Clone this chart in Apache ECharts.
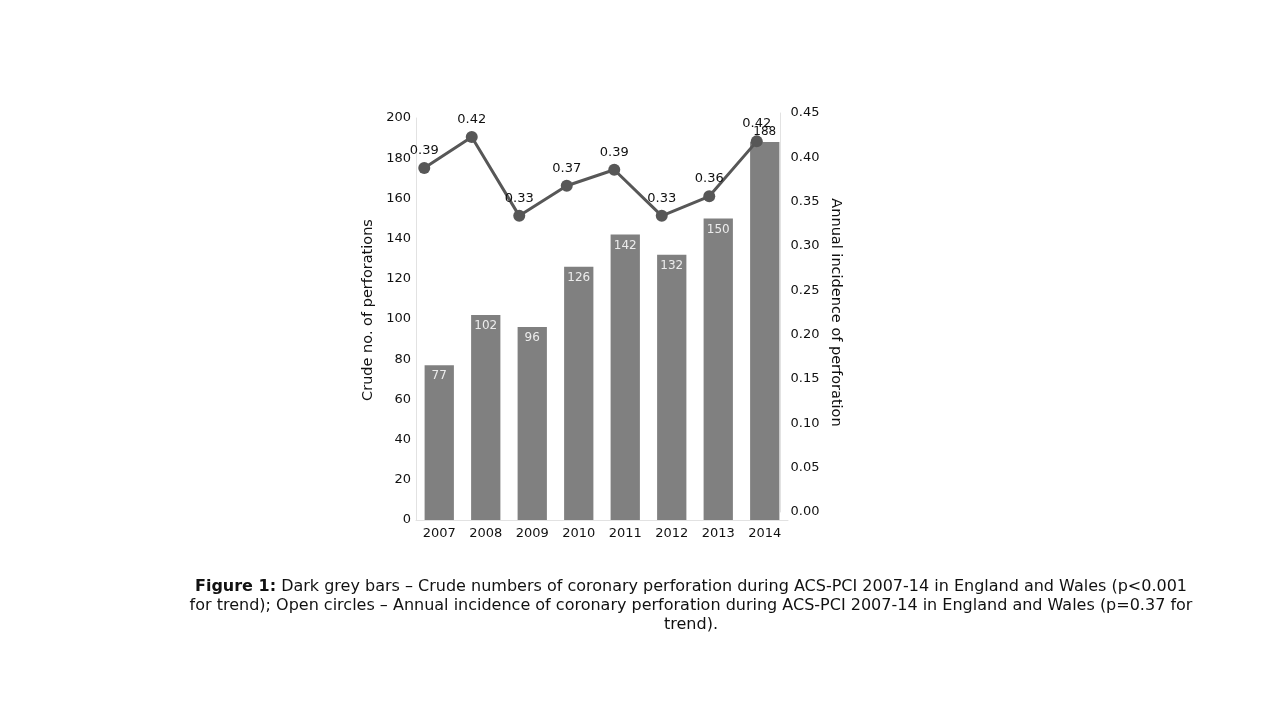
<!DOCTYPE html>
<html>
<head>
<meta charset="utf-8">
<script src="https://cdn.jsdelivr.net/npm/echarts@6/dist/echarts.min.js"></script>
<style>
html,body{margin:0;padding:0;background:#fff;}
#chart{width:1280px;height:720px;}
</style>
</head>
<body>
<div id="chart"></div>
<script>
const years = ['2007', '2008', '2009', '2010', '2011', '2012', '2013', '2014'];
const crudeCounts = [77, 102, 96, 126, 142, 132, 150, 188];
const annualIncidence = [0.388, 0.423, 0.334, 0.368, 0.386, 0.334, 0.356, 0.418];
const leftTicks = { min: 0, max: 200, interval: 20 };
const rightTicks = { min: 0, max: 0.45, interval: 0.05 };
const captionBold = 'Figure 1:';
const captionLines = [
  ' Dark grey bars \u2013 Crude numbers of coronary perforation during ACS-PCI 2007-14 in England and Wales (p<0.001',
  'for trend); Open circles \u2013 Annual incidence of coronary perforation during ACS-PCI 2007-14 in England and Wales (p=0.37 for',
  'trend).'
];

const FONT = 'DejaVu Sans';
const spine = { show: true, lineStyle: { color: '#e2e2e2', width: 1 } };

const barData = crudeCounts.map((v, i) => {
  if (i === crudeCounts.length - 1) {
    return { value: v, label: { position: 'top', color: '#111', distance: 4 } };
  }
  return v;
});

const chart = echarts.init(document.getElementById('chart'), null, { renderer: 'canvas' });
chart.setOption({
  backgroundColor: '#ffffff',
  animation: false,
  textStyle: { fontFamily: FONT },
  title: {
    text: '{b|' + captionBold + '}' + captionLines.join('\n'),
    left: 686,
    top: 572,
    textAlign: 'center',
    textStyle: {
      fontFamily: FONT, fontSize: 16, fontWeight: 'normal', color: '#111', lineHeight: 19,
      rich: { b: { fontFamily: FONT, fontSize: 16, fontWeight: 'bold', color: '#111', lineHeight: 19 } }
    }
  },
  grid: [
    { left: 416, right: 492, top: 118, bottom: 200, containLabel: false },
    { left: 400.5, right: 499.5, top: 113, bottom: 208, containLabel: false }
  ],
  xAxis: [
    {
      type: 'category', gridIndex: 0, data: years, boundaryGap: true,
      axisLine: spine, axisTick: { show: false },
      axisLabel: { color: '#111', fontSize: 13, fontFamily: FONT, margin: 7 },
      splitLine: { show: false }
    },
    {
      type: 'category', gridIndex: 1, data: years, boundaryGap: true, show: false
    }
  ],
  yAxis: [
    {
      type: 'value', gridIndex: 0, min: leftTicks.min, max: leftTicks.max, interval: leftTicks.interval,
      name: 'Crude no. of perforations', nameLocation: 'middle', nameGap: 40,
      nameTextStyle: { color: '#111', fontSize: 14.5, fontFamily: FONT, padding: [0, 0, 0, 18] },
      axisLine: spine, axisTick: { show: false },
      axisLabel: { color: '#111', fontSize: 13, fontFamily: FONT, margin: 5, padding: [4, 0, 0, 0] },
      splitLine: { show: false }
    },
    {
      type: 'value', gridIndex: 1, position: 'right', min: rightTicks.min, max: rightTicks.max, interval: rightTicks.interval,
      name: 'Annual incidence of perforation', nameLocation: 'middle', nameGap: 48, nameRotate: -90,
      nameTextStyle: { color: '#111', fontSize: 14.5, fontFamily: FONT },
      axisLine: spine, axisTick: { show: false },
      axisLabel: { color: '#111', fontSize: 13, fontFamily: FONT, margin: 10, padding: [4, 0, 0, 0], formatter: v => v.toFixed(2) },
      splitLine: { show: false }
    }
  ],
  series: [
    {
      type: 'bar', xAxisIndex: 0, yAxisIndex: 0, data: barData, barWidth: '63%',
      itemStyle: { color: '#808080' },
      label: { show: true, position: 'insideTop', distance: 5, color: '#ececec', fontSize: 12, fontFamily: FONT },
      z: 2
    },
    {
      type: 'line', xAxisIndex: 1, yAxisIndex: 1, data: annualIncidence,
      symbol: 'circle', symbolSize: 12,
      lineStyle: { color: '#575757', width: 3 },
      itemStyle: { color: '#575757' },
      label: { show: true, position: 'top', distance: 5, color: '#111', fontSize: 13, fontFamily: FONT, formatter: p => p.value.toFixed(2) },
      z: 5
    }
  ]
});
</script>
</body>
</html>
